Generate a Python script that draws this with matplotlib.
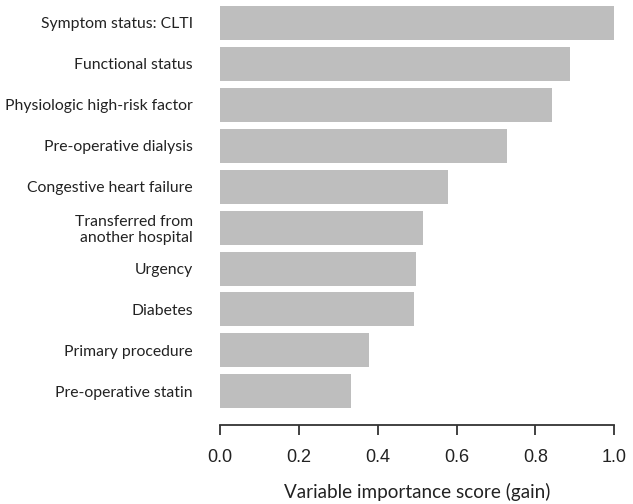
import matplotlib
matplotlib.use("Agg")
import matplotlib.pyplot as plt

categories = ["Symptom status: CLTI", "Functional status", "Physiologic high-risk factor",
              "Pre-operative dialysis", "Congestive heart failure",
              "Transferred from\nanother hospital", "Urgency", "Diabetes",
              "Primary procedure", "Pre-operative statin"]
values = [0.998, 0.887, 0.841, 0.727, 0.578, 0.516, 0.496, 0.493, 0.379, 0.333]
xticks = [0.0, 0.2, 0.4, 0.6, 0.8, 1.0]
xtick_labels = ["0.0", "0.2", "0.4", "0.6", "0.8", "1.0"]

W, H = 633, 504
fig = plt.figure(figsize=(W / 100, H / 100), dpi=100)
ax = fig.add_axes([220 / W, (H - 425) / H, 394.3 / W, 425 / H])

n = len(categories)
ypos = list(range(n - 1, -1, -1))
ax.barh(ypos, values, height=0.83, color="#bebebe", edgecolor="none")
ax.set_xlim(0, 1)
ax.set_ylim(-0.824, 9.562)

for s in ["top", "right", "left"]:
    ax.spines[s].set_visible(False)
ax.spines["bottom"].set_bounds(0, 1)
ax.spines["bottom"].set_color("#333333")
ax.spines["bottom"].set_linewidth(1.3)

ax.set_xticks(xticks)
ax.set_xticklabels(xtick_labels, family="Liberation Sans", fontsize=13, color="#222222")
ax.tick_params(axis="x", length=7.2, width=1.3, color="#333333", pad=10)

ax.set_yticks(ypos)
ax.set_yticklabels(categories, family="Lato", fontsize=11.3, color="#222222",
                   linespacing=1.15)
ax.tick_params(axis="y", length=0, pad=19.5)

ax.set_xlabel("Variable importance score (gain)", family="Lato", fontsize=13.6,
              color="#222222", labelpad=12)

fig.savefig("out.png", dpi=100, facecolor="white")
